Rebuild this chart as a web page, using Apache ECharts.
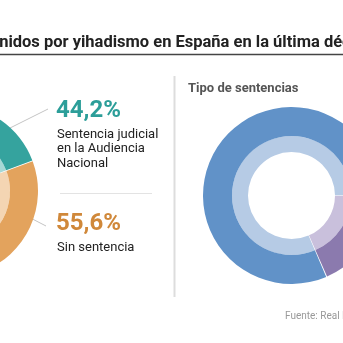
<!DOCTYPE html>
<html>
<head>
<meta charset="utf-8">
<script src="https://cdn.jsdelivr.net/npm/echarts@6/dist/echarts.min.js"></script>
<style>
html,body{margin:0;padding:0;background:#fff;}
#c{width:343px;height:343px;}
</style>
</head>
<body>
<div id="c"></div>
<script>
const titleText = 'Detenidos por yihadismo en España en la última década';
const leftCategories = ['Sentencia judicial\nen la Audiencia\nNacional', 'Sin sentencia'];
const leftValues = [44.2, 55.6];
const leftOuterColors = ['#35a39e', '#e3a35d'];
const leftInnerColors = ['#a7d8d5', '#f4d5b3'];
const leftTextColors = ['#2c9e99', '#d0883a'];

const rightTitle = 'Tipo de sentencias';
const rightCategories = ['Absolutoria', 'Condenatoria'];
const rightValues = [18.5, 81.5];
const rightOuterColors = ['#8b7aae', '#6192c8'];
const rightInnerColors = ['#c9c0dc', '#b6cbe5'];

const sourceText = 'Fuente: Real Instituto Elcano';

const fmt = v => v.toFixed(1).replace('.', ',') + '%';

const chart = echarts.init(document.getElementById('c'), null, {renderer: 'canvas'});

function pieData(cats, vals, cols) {
  return cats.map((c, i) => ({name: c, value: vals[i], itemStyle: {color: cols[i]}}));
}

const ff = 'Roboto, "Noto Sans", sans-serif';

const pieBase = {
  type: 'pie',
  clockwise: true,
  label: {show: false},
  labelLine: {show: false},
  silent: true,
  animation: false,
  padAngle: 0.6,
  itemStyle: {borderWidth: 0}
};

chart.setOption({
  animation: false,
  series: [
    Object.assign({}, pieBase, {center: [-48, 191], radius: [42, 58], startAngle: 180,
      data: pieData(leftCategories, leftValues, leftInnerColors)}),
    Object.assign({}, pieBase, {center: [-48, 191], radius: [58, 86], startAngle: 180,
      data: pieData(leftCategories, leftValues, leftOuterColors)}),
    Object.assign({}, pieBase, {center: [291.5, 195.5], radius: [43.5, 59.5], startAngle: 0,
      data: pieData(rightCategories, rightValues, rightInnerColors)}),
    Object.assign({}, pieBase, {center: [291.5, 195.5], radius: [59.5, 88.5], startAngle: 0,
      data: pieData(rightCategories, rightValues, rightOuterColors)})
  ],
  graphic: [
    {type: 'text', style: {text: titleText, x: -35, y: 43, fontFamily: ff, fontSize: 16.5, fontWeight: 'bold', fill: '#222', verticalAlign: 'middle', textVerticalAlign: 'middle'}},
    {type: 'line', shape: {x1: 0, y1: 54.5, x2: 343, y2: 54.5}, style: {stroke: '#444', lineWidth: 1.5}},
    {type: 'line', shape: {x1: 174.5, y1: 76, x2: 174.5, y2: 297}, style: {stroke: '#dddddd', lineWidth: 2}},
    {type: 'text', style: {text: rightTitle, x: 188, y: 89, fontFamily: ff, fontSize: 13, fontWeight: 'bold', fill: '#555', verticalAlign: 'middle', textVerticalAlign: 'middle'}},
    {type: 'text', style: {text: sourceText, x: 285, y: 316, fontFamily: ff, fontSize: 10, fill: '#999', verticalAlign: 'middle', textVerticalAlign: 'middle'}},
    {type: 'line', shape: {x1: 0, y1: 133, x2: 48, y2: 109}, style: {stroke: '#c4c4c4', lineWidth: 1}},
    {type: 'line', shape: {x1: 15, y1: 210, x2: 46, y2: 226}, style: {stroke: '#c4c4c4', lineWidth: 1}},
    {type: 'text', style: {text: fmt(leftValues[0]), x: 56, y: 111, fontFamily: ff, fontSize: 24, fontWeight: 'bold', fill: leftTextColors[0], verticalAlign: 'middle', textVerticalAlign: 'middle'}},
    {type: 'text', style: {text: leftCategories[0], x: 57, y: 127, fontFamily: ff, fontSize: 13, lineHeight: 14.5, fill: '#222', verticalAlign: 'top', textVerticalAlign: 'top'}},
    {type: 'line', shape: {x1: 60, y1: 193.5, x2: 152, y2: 193.5}, style: {stroke: '#e3e3e3', lineWidth: 1}},
    {type: 'text', style: {text: fmt(leftValues[1]), x: 56, y: 224, fontFamily: ff, fontSize: 24, fontWeight: 'bold', fill: leftTextColors[1], verticalAlign: 'middle', textVerticalAlign: 'middle'}},
    {type: 'text', style: {text: leftCategories[1], x: 57, y: 248, fontFamily: ff, fontSize: 13, fill: '#222', verticalAlign: 'middle', textVerticalAlign: 'middle'}}
  ]
});
</script>
</body>
</html>
